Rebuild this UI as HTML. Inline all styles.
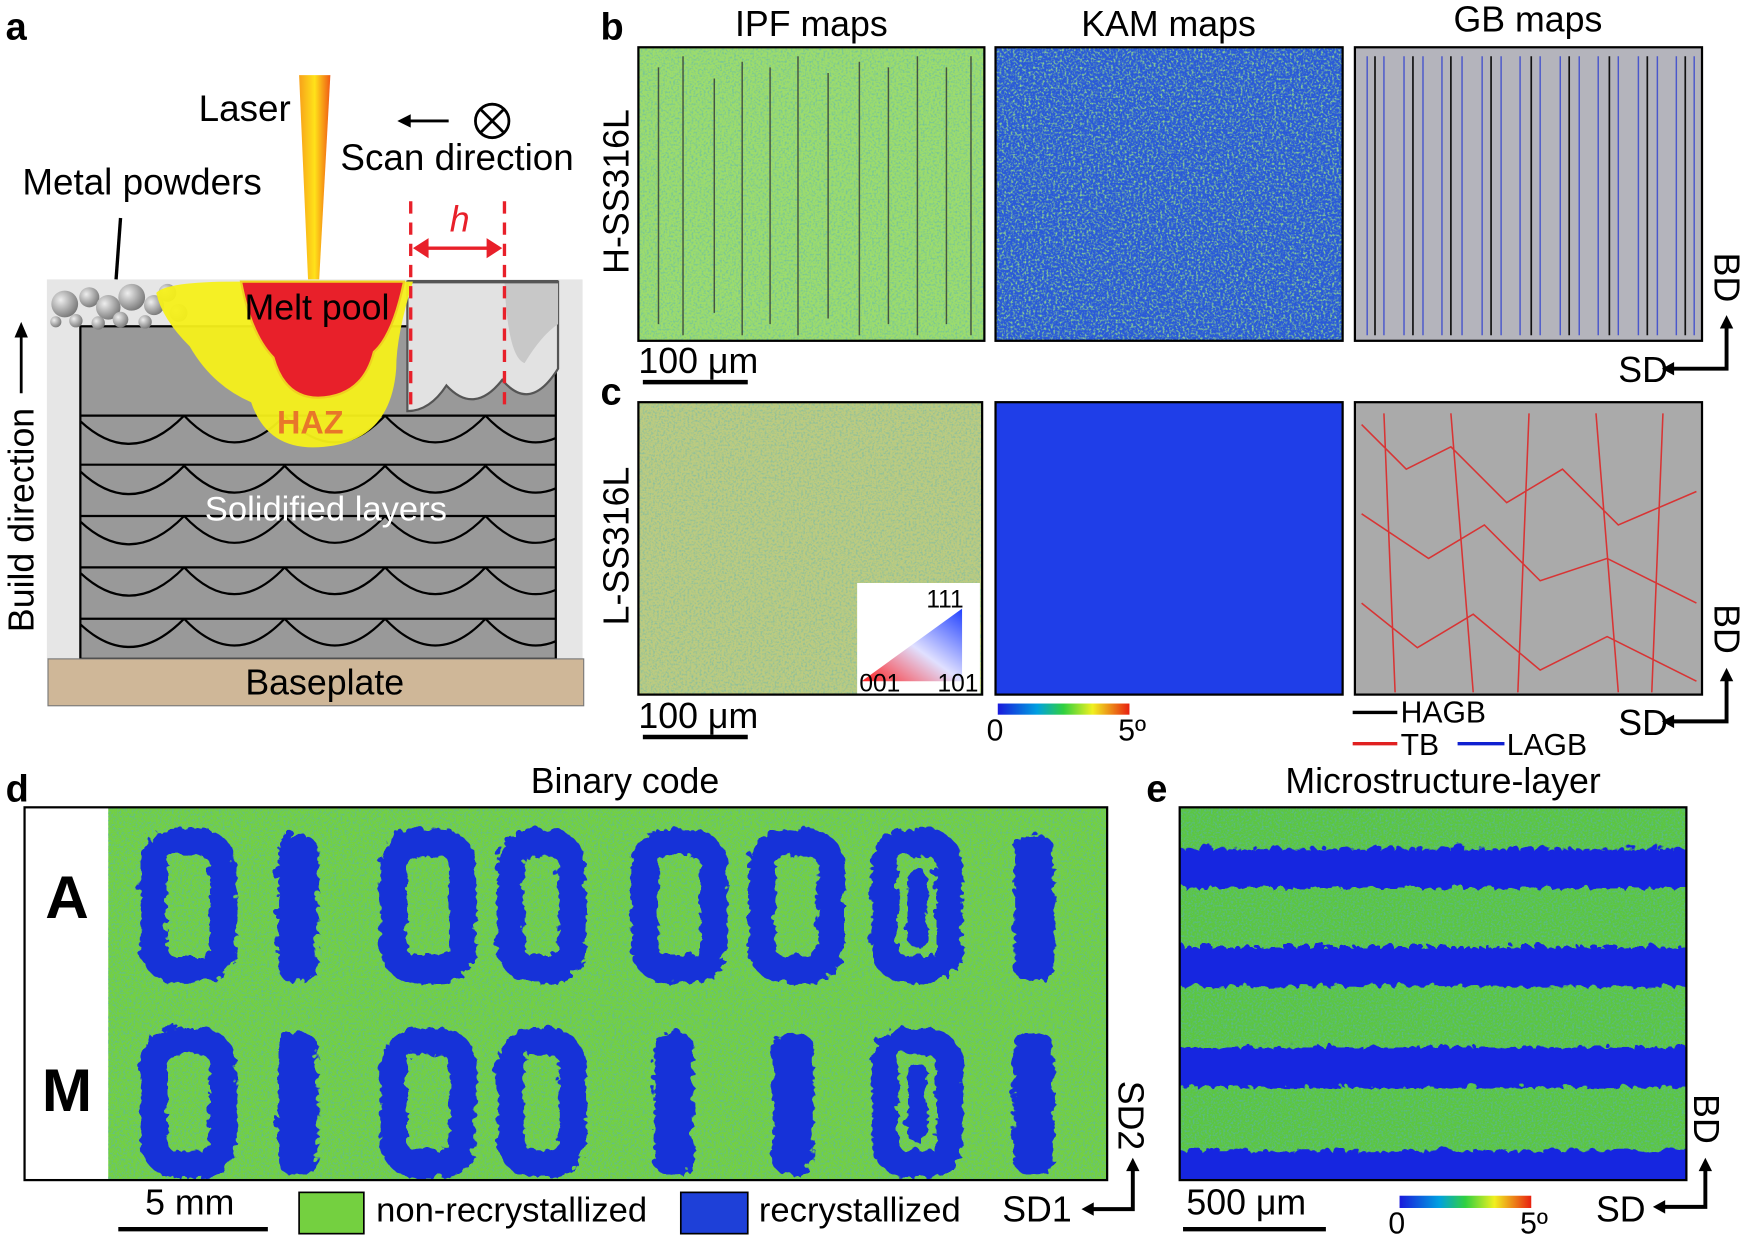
<!DOCTYPE html>
<html><head><meta charset="utf-8"><style>
html,body{margin:0;padding:0;background:#fff;}
svg{display:block;}
text{font-family:"Liberation Sans",Arial,sans-serif;}
</style></head><body>
<svg width="1750" height="1243" viewBox="0 0 1568 1113" xmlns="http://www.w3.org/2000/svg">
<defs>
<filter id="speck" x="0" y="0" width="100%" height="100%">
<feTurbulence type="fractalNoise" baseFrequency="0.55" numOctaves="2" seed="4" result="t"/>
<feColorMatrix in="t" type="matrix" values="0 0 0 0 0.1  0 0 0 0 0.45  0 0 0 0 0.5  0 0 0 -3 1.7"/>
</filter>
<filter id="speck2" x="0" y="0" width="100%" height="100%">
<feTurbulence type="fractalNoise" baseFrequency="0.5" numOctaves="2" seed="9"/>
<feColorMatrix type="matrix" values="0 0 0 0 0.4  0 0 0 0 0.9  0 0 0 0 0.2  0 0 0 -3 1.6"/>
</filter>
<filter id="rough"><feTurbulence baseFrequency="0.08" numOctaves="2" seed="2"/><feDisplacementMap in="SourceGraphic" scale="10"/></filter>
<linearGradient id="laser" x1="0" x2="1"><stop offset="0" stop-color="#f7a11a"/><stop offset=".5" stop-color="#ffe21a"/><stop offset="1" stop-color="#f05a14"/></linearGradient>
<linearGradient id="jet" x1="0" x2="1"><stop offset="0" stop-color="#1a1adc"/><stop offset=".3" stop-color="#00a0e0"/><stop offset=".5" stop-color="#30d040"/><stop offset=".72" stop-color="#f0f020"/><stop offset="1" stop-color="#e82010"/></linearGradient>
<linearGradient id="tri" x1="0" y1="1" x2="1" y2="0"><stop offset="0" stop-color="#ff2020"/><stop offset=".5" stop-color="#e0e0ff"/><stop offset="1" stop-color="#2040ff"/></linearGradient>
<radialGradient id="ball" cx=".35" cy=".35" r=".7"><stop offset="0" stop-color="#eee"/><stop offset="1" stop-color="#777"/></radialGradient>
<clipPath id="blk"><rect x="72" y="290" width="426" height="300"/></clipPath>
<clipPath id="eclip"><rect x="1057" y="723" width="454" height="334"/></clipPath>
<clipPath id="dclip"><rect x="97" y="723" width="895" height="334"/></clipPath>
</defs>

<!-- Panel a -->
<text x="5" y="35" font-size="34" font-weight="bold">a</text>
<rect x="42" y="250" width="480" height="340" fill="#e6e6e6"/>
<rect x="72" y="292" width="426" height="298" fill="#999" stroke="#000" stroke-width="2"/>
<g clip-path="url(#blk)" fill="none" stroke="#000" stroke-width="2">
<line x1="72" y1="372" x2="498" y2="372"/>
<line x1="72" y1="416" x2="498" y2="416"/>
<line x1="72" y1="462" x2="498" y2="462"/>
<line x1="72" y1="508" x2="498" y2="508"/>
<line x1="72" y1="554" x2="498" y2="554"/>
<g id="arcrow"><path d="M72 377 Q118 420 165 372 M165 372 Q210 420 255 372 M255 372 Q300 420 345 372 M345 372 Q390 420 435 372 M435 372 Q480 420 525 372"/></g>
<use href="#arcrow" y="45"/><use href="#arcrow" y="90"/><use href="#arcrow" y="136"/><use href="#arcrow" y="182"/>
</g>
<path d="M365 252 L500 252 L500 330 Q475 370 450 340 Q425 372 400 345 Q385 368 365 368 Z" fill="#e2e2e2" stroke="#555" stroke-width="2"/>
<path d="M452 252 Q455 320 470 325 Q485 300 500 290 L500 252 Z" fill="#c8c8c8"/>
<path d="M365 252 L500 252" stroke="#555" stroke-width="3"/>
<g fill="url(#ball)">
<circle cx="58" cy="272" r="12"/><circle cx="80" cy="266" r="9"/><circle cx="97" cy="275" r="11"/><circle cx="118" cy="266" r="12"/><circle cx="138" cy="273" r="9"/><circle cx="150" cy="262" r="8"/><circle cx="68" cy="287" r="6"/><circle cx="108" cy="286" r="7"/><circle cx="130" cy="288" r="6"/><circle cx="88" cy="289" r="6"/><circle cx="50" cy="288" r="5"/><circle cx="160" cy="280" r="8"/>
</g>
<line x1="108" y1="195" x2="104" y2="250" stroke="#000" stroke-width="3"/>
<path d="M140 262 Q150 252 210 252 L370 252 Q355 300 355 330 Q350 395 290 400 Q240 405 225 360 Q190 345 170 310 Q145 285 140 262 Z" fill="#f6f01a" opacity=".95"/>
<path d="M216 252 L362 252 Q352 300 335 315 Q325 355 285 356 Q255 356 245 320 Q225 300 216 252 Z" fill="#e8202a" stroke="#f0d020" stroke-width="2"/>
<text x="284" y="286" font-size="32" text-anchor="middle">Melt pool</text>
<text x="278" y="388" font-size="29" font-weight="bold" fill="#e8762a" text-anchor="middle">HAZ</text>
<text x="292" y="466" font-size="31" fill="#fff" text-anchor="middle">Solidified layers</text>
<path d="M268 67 L296 67 L286 250 L276 250 Z" fill="url(#laser)"/>
<text x="178" y="108" font-size="33">Laser</text>
<text x="20" y="174" font-size="33">Metal powders</text>
<text x="305" y="152" font-size="33">Scan direction</text>
<line x1="362" y1="108" x2="402" y2="108" stroke="#000" stroke-width="2.5"/>
<path d="M356 108 L368 102 L368 114 Z" fill="#000"/>
<circle cx="441" cy="108" r="15" fill="none" stroke="#000" stroke-width="2.5"/>
<path d="M430 97 L452 119 M452 97 L430 119" stroke="#000" stroke-width="2.5"/>
<g stroke="#e8202a" stroke-width="3" stroke-dasharray="11 8">
<line x1="368" y1="180" x2="368" y2="370"/><line x1="452" y1="180" x2="452" y2="370"/></g>
<line x1="376" y1="222" x2="444" y2="222" stroke="#e8202a" stroke-width="3"/>
<path d="M370 222 L384 213 L384 231 Z M450 222 L436 213 L436 231 Z" fill="#e8202a"/>
<text x="403" y="207" font-size="32" font-style="italic" fill="#e8202a">h</text>
<rect x="43" y="590" width="480" height="42" fill="#cfb798" stroke="#777" stroke-width="1"/>
<text x="291" y="622" font-size="32" text-anchor="middle">Baseplate</text>
<text transform="translate(30 566) rotate(-90)" font-size="32">Build direction</text>
<line x1="19" y1="352" x2="19" y2="295" stroke="#000" stroke-width="2.5"/>
<path d="M19 288 L13 302 L25 302 Z" fill="#000"/>

<!-- headers -->
<text x="538" y="35" font-size="34" font-weight="bold">b</text>
<text x="727" y="32" font-size="32" text-anchor="middle">IPF maps</text>
<text x="1047" y="32" font-size="32" text-anchor="middle">KAM maps</text>
<text x="1369" y="28" font-size="32" text-anchor="middle">GB maps</text>
<text transform="translate(563 245) rotate(-90)" font-size="32">H-SS316L</text>
<text transform="translate(563 560) rotate(-90)" font-size="32">L-SS316L</text>
<text x="538" y="362" font-size="34" font-weight="bold">c</text>

<!-- b maps -->
<rect x="572" y="42" width="310" height="263" fill="#9ddc6c"/>
<rect x="572" y="42" width="310" height="263" filter="url(#speck)" opacity=".55"/>
<g stroke="#333" stroke-width="1.3" fill="none" opacity=".8">
<path d="M590 60 V290 M612 50 V300 M640 70 V280 M665 55 V300 M690 60 V290 M715 50 V300 M742 65 V285 M770 55 V300 M796 60 V290 M822 50 V300 M848 60 V290 M870 50 V300"/></g>
<rect x="572" y="42" width="310" height="263" fill="none" stroke="#000" stroke-width="2"/>

<rect x="892" y="42" width="311" height="263" fill="#2a5ad8"/>
<rect x="892" y="42" width="311" height="263" filter="url(#speck2)" opacity=".8"/>
<rect x="892" y="42" width="311" height="263" fill="none" stroke="#000" stroke-width="2"/>

<rect x="1214" y="42" width="311" height="263" fill="#b4b4bc"/>
<g stroke="#3040d0" stroke-width="1.3" fill="none" opacity=".8">
<path d="M1225 50 V300 M1240 50 V300 M1258 50 V300 M1275 50 V300 M1292 50 V300 M1310 50 V300 M1328 50 V300 M1345 50 V300 M1362 50 V300 M1380 50 V300 M1398 50 V300 M1415 50 V300 M1432 50 V300 M1450 50 V300 M1468 50 V300 M1485 50 V300 M1502 50 V300 M1518 50 V300"/></g>
<g stroke="#111" stroke-width="1.5" fill="none"><path d="M1232 50 V300 M1266 50 V300 M1300 50 V300 M1336 50 V300 M1372 50 V300 M1406 50 V300 M1442 50 V300 M1476 50 V300 M1510 50 V300"/></g>
<rect x="1214" y="42" width="311" height="263" fill="none" stroke="#000" stroke-width="2"/>

<line x1="576" y1="342" x2="670" y2="342" stroke="#000" stroke-width="4"/>
<text x="572" y="334" font-size="32">100 μm</text>

<!-- c maps -->
<rect x="572" y="360" width="308" height="262" fill="#b8d878"/>
<rect x="572" y="360" width="308" height="262" fill="#e070c0" opacity=".12"/>
<rect x="572" y="360" width="308" height="262" filter="url(#speck)" opacity=".45"/>
<rect x="768" y="522" width="110" height="100" fill="#fff"/>
<path d="M772 610 L862 610 L862 545 Z" fill="url(#tri)"/>
<text x="830" y="544" font-size="22">111</text>
<text x="770" y="619" font-size="22">001</text>
<text x="840" y="619" font-size="22">101</text>
<rect x="572" y="360" width="308" height="262" fill="none" stroke="#000" stroke-width="2"/>

<rect x="892" y="360" width="311" height="262" fill="#1f3ee8"/>
<rect x="892" y="360" width="311" height="262" fill="none" stroke="#000" stroke-width="2"/>

<rect x="1214" y="360" width="311" height="262" fill="#aaa"/>
<g stroke="#e02020" stroke-width="1.4" fill="none" opacity=".85">
<path d="M1220 380 L1260 420 L1300 400 L1350 450 L1400 420 L1450 470 L1520 440 M1220 460 L1280 500 L1330 470 L1380 520 L1440 500 L1520 540 M1220 540 L1270 580 L1320 550 L1380 600 L1440 570 L1520 610 M1240 370 L1250 620 M1300 370 L1320 620 M1370 370 L1360 620 M1430 370 L1450 620 M1490 370 L1480 620"/></g>
<rect x="1214" y="360" width="311" height="262" fill="none" stroke="#000" stroke-width="2"/>

<line x1="576" y1="660" x2="670" y2="660" stroke="#000" stroke-width="4"/>
<text x="572" y="652" font-size="32">100 μm</text>
<rect x="894" y="630" width="118" height="10" fill="url(#jet)"/>
<text x="884" y="663" font-size="27">0</text>
<text x="1002" y="663" font-size="27">5º</text>
<line x1="1212" y1="638" x2="1252" y2="638" stroke="#000" stroke-width="3"/>
<text x="1255" y="647" font-size="27">HAGB</text>
<line x1="1212" y1="666" x2="1252" y2="666" stroke="#e02020" stroke-width="3"/>
<text x="1255" y="676" font-size="27">TB</text>
<line x1="1306" y1="666" x2="1348" y2="666" stroke="#1020d0" stroke-width="3"/>
<text x="1350" y="676" font-size="27">LAGB</text>

<g font-size="32">
<text transform="translate(1536 226) rotate(90)">BD</text>
<text x="1450" y="342">SD</text>
<text transform="translate(1536 541) rotate(90)">BD</text>
<text x="1450" y="658">SD</text>
</g>
<g stroke="#000" stroke-width="3.5" fill="none">
<path d="M1496 330 H1547 V290"/><path d="M1496 646 H1547 V606"/>
</g>
<path d="M1547 282 L1541 294 L1553 294 Z M1489 330 L1500 324 L1500 336 Z M1547 598 L1541 610 L1553 610 Z M1489 646 L1500 640 L1500 652 Z" fill="#000"/>

<!-- Panel d -->
<text x="5" y="718" font-size="34" font-weight="bold">d</text>
<text x="560" y="710" font-size="32" text-anchor="middle">Binary code</text>
<rect x="97" y="723" width="895" height="334" fill="#74d040"/>
<rect x="97" y="723" width="895" height="334" filter="url(#speck)" opacity=".6"/>
<g clip-path="url(#dclip)">
<g fill="none" stroke="#1630d8" stroke-width="24" filter="url(#rough)">
<rect x="135" y="752" width="62" height="114" rx="20"/>
<rect x="350" y="752" width="62" height="114" rx="20"/>
<rect x="455" y="752" width="55" height="114" rx="20"/>
<rect x="575" y="752" width="62" height="114" rx="20"/>
<rect x="680" y="752" width="62" height="114" rx="20"/>
<rect x="790" y="752" width="58" height="114" rx="20"/>
<rect x="135" y="930" width="62" height="110" rx="20"/>
<rect x="350" y="930" width="62" height="110" rx="20"/>
<rect x="455" y="930" width="55" height="110" rx="20"/>
<rect x="790" y="930" width="58" height="110" rx="20"/>
</g>
<g fill="#1630d8" filter="url(#rough)">
<rect x="246" y="745" width="36" height="132" rx="14"/>
<rect x="906" y="745" width="36" height="132" rx="14"/>
<rect x="810" y="775" width="18" height="70" rx="8"/>
<rect x="246" y="922" width="36" height="128" rx="14"/>
<rect x="583" y="922" width="36" height="128" rx="14"/>
<rect x="690" y="922" width="36" height="128" rx="14"/>
<rect x="906" y="922" width="36" height="128" rx="14"/>
<rect x="810" y="950" width="18" height="70" rx="8"/>
</g>
</g>
<rect x="22" y="723" width="970" height="334" fill="none" stroke="#000" stroke-width="2"/>
<text x="60" y="822" font-size="54" font-weight="bold" text-anchor="middle">A</text>
<text x="60" y="995" font-size="54" font-weight="bold" text-anchor="middle">M</text>
<line x1="106" y1="1101" x2="240" y2="1101" stroke="#000" stroke-width="4"/>
<text x="130" y="1088" font-size="32">5 mm</text>
<rect x="268" y="1068" width="58" height="37" fill="#74d040" stroke="#000" stroke-width="1.5"/>
<text x="337" y="1094" font-size="31">non-recrystallized</text>
<rect x="610" y="1068" width="60" height="37" fill="#1e40d8" stroke="#000" stroke-width="1.5"/>
<text x="680" y="1094" font-size="31">recrystallized</text>
<text transform="translate(1002 968) rotate(90)" font-size="32">SD2</text>
<text x="898" y="1094" font-size="32">SD1</text>
<g stroke="#000" stroke-width="3.5" fill="none"><path d="M976 1083 H1015 V1045"/></g>
<path d="M1015 1037 L1009 1049 L1021 1049 Z M969 1083 L980 1077 L980 1089 Z" fill="#000"/>

<!-- Panel e -->
<text x="1027" y="718" font-size="34" font-weight="bold">e</text>
<text x="1293" y="710" font-size="32" text-anchor="middle">Microstructure-layer</text>
<rect x="1057" y="723" width="454" height="334" fill="#5cc640"/>
<rect x="1057" y="723" width="454" height="334" filter="url(#speck)" opacity=".6"/>
<g clip-path="url(#eclip)">
<g fill="#1428e0" filter="url(#rough)">
<rect x="1040" y="757" width="490" height="36"/>
<rect x="1040" y="845" width="490" height="36"/>
<rect x="1040" y="935" width="490" height="36"/>
<rect x="1040" y="1028" width="490" height="40"/>
</g>
</g>
<rect x="1057" y="723" width="454" height="334" fill="none" stroke="#000" stroke-width="2"/>
<line x1="1060" y1="1101" x2="1188" y2="1101" stroke="#000" stroke-width="4"/>
<text x="1063" y="1088" font-size="32">500 μm</text>
<rect x="1254" y="1071" width="118" height="11" fill="url(#jet)"/>
<text x="1244" y="1105" font-size="27">0</text>
<text x="1362" y="1105" font-size="27">5º</text>
<text transform="translate(1518 980) rotate(90)" font-size="32">BD</text>
<text x="1430" y="1094" font-size="32">SD</text>
<g stroke="#000" stroke-width="3.5" fill="none"><path d="M1488 1081 H1528 V1045"/></g>
<path d="M1528 1037 L1522 1049 L1534 1049 Z M1481 1081 L1492 1075 L1492 1087 Z" fill="#000"/>
</svg>
</body></html>
